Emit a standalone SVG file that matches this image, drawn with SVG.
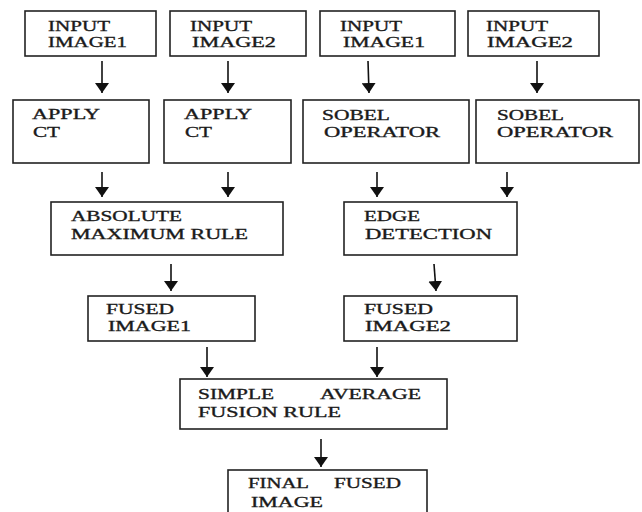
<svg xmlns="http://www.w3.org/2000/svg" width="642" height="512" viewBox="0 0 642 512">
<style>
.box{fill:#fff;stroke:#222;stroke-width:1.6}
.t{font-family:"Liberation Serif","Times New Roman",serif;font-size:15px;fill:#1a1a1a;stroke:#1a1a1a;stroke-width:0.35}
.c{stroke:#111;stroke-width:1.6;fill:none;marker-end:url(#ah)}
</style>
<defs>
<marker id="ah" markerUnits="userSpaceOnUse" viewBox="0 0 10 14" refX="10" refY="7" markerWidth="10" markerHeight="14" orient="auto">
<path d="M0,0 L10,7 L0,14 z" fill="#111"/>
</marker>
</defs>
<rect width="642" height="512" fill="#fff"/>
<g id="connectors">
<line class="c" x1="102" y1="61" x2="102" y2="93"/>
<line class="c" x1="228" y1="61" x2="228" y2="93"/>
<line class="c" x1="368" y1="61" x2="369" y2="93"/>
<line class="c" x1="537" y1="61" x2="537" y2="93"/>
<line class="c" x1="102" y1="172" x2="102" y2="197"/>
<line class="c" x1="228" y1="172" x2="228" y2="197"/>
<line class="c" x1="377" y1="172" x2="377" y2="197"/>
<line class="c" x1="507" y1="172" x2="507" y2="197"/>
<line class="c" x1="171" y1="264" x2="171" y2="291"/>
<line class="c" x1="434" y1="264" x2="436" y2="291"/>
<line class="c" x1="207" y1="347" x2="207" y2="377"/>
<line class="c" x1="377" y1="347" x2="377" y2="377"/>
<line class="c" x1="321" y1="439" x2="321" y2="467"/>
</g>
<g id="input1a"><rect class="box" x="25" y="11" width="131" height="45"/>
<text class="t" x="48" y="31" textLength="62" lengthAdjust="spacingAndGlyphs">INPUT</text>
<text class="t" x="48" y="47" textLength="79" lengthAdjust="spacingAndGlyphs">IMAGE1</text></g>
<g id="input2a"><rect class="box" x="170" y="11" width="136" height="45"/>
<text class="t" x="190" y="31" textLength="62" lengthAdjust="spacingAndGlyphs">INPUT</text>
<text class="t" x="192" y="47" textLength="84" lengthAdjust="spacingAndGlyphs">IMAGE2</text></g>
<g id="input1b"><rect class="box" x="320" y="11" width="135" height="45"/>
<text class="t" x="340" y="31" textLength="62" lengthAdjust="spacingAndGlyphs">INPUT</text>
<text class="t" x="343" y="47" textLength="82" lengthAdjust="spacingAndGlyphs">IMAGE1</text></g>
<g id="input2b"><rect class="box" x="468" y="11" width="131" height="45"/>
<text class="t" x="486" y="31" textLength="62" lengthAdjust="spacingAndGlyphs">INPUT</text>
<text class="t" x="487" y="47" textLength="86" lengthAdjust="spacingAndGlyphs">IMAGE2</text></g>
<g id="ct1"><rect class="box" x="13" y="100" width="136" height="63"/>
<text class="t" x="32" y="119" textLength="68" lengthAdjust="spacingAndGlyphs">APPLY</text>
<text class="t" x="33" y="137" textLength="27" lengthAdjust="spacingAndGlyphs">CT</text></g>
<g id="ct2"><rect class="box" x="164" y="100" width="127" height="63"/>
<text class="t" x="184" y="119" textLength="68" lengthAdjust="spacingAndGlyphs">APPLY</text>
<text class="t" x="185" y="137" textLength="27" lengthAdjust="spacingAndGlyphs">CT</text></g>
<g id="sobel1"><rect class="box" x="303" y="100" width="166" height="63"/>
<text class="t" x="322" y="120" textLength="68" lengthAdjust="spacingAndGlyphs">SOBEL</text>
<text class="t" x="324" y="137" textLength="116" lengthAdjust="spacingAndGlyphs">OPERATOR</text></g>
<g id="sobel2"><rect class="box" x="476" y="100" width="163" height="63"/>
<text class="t" x="497" y="120" textLength="67" lengthAdjust="spacingAndGlyphs">SOBEL</text>
<text class="t" x="497" y="137" textLength="116" lengthAdjust="spacingAndGlyphs">OPERATOR</text></g>
<g id="absmax"><rect class="box" x="51" y="202" width="232" height="53"/>
<text class="t" x="71" y="221" textLength="111" lengthAdjust="spacingAndGlyphs">ABSOLUTE</text>
<text class="t" x="71" y="239" textLength="177" lengthAdjust="spacingAndGlyphs">MAXIMUM RULE</text></g>
<g id="edge"><rect class="box" x="344" y="202" width="173" height="53"/>
<text class="t" x="364" y="221" textLength="56" lengthAdjust="spacingAndGlyphs">EDGE</text>
<text class="t" x="365" y="239" textLength="127" lengthAdjust="spacingAndGlyphs">DETECTION</text></g>
<g id="fused1"><rect class="box" x="88" y="296" width="167" height="45"/>
<text class="t" x="106" y="314" textLength="68" lengthAdjust="spacingAndGlyphs">FUSED</text>
<text class="t" x="108" y="331" textLength="83" lengthAdjust="spacingAndGlyphs">IMAGE1</text></g>
<g id="fused2"><rect class="box" x="344" y="296" width="173" height="45"/>
<text class="t" x="364" y="314" textLength="69" lengthAdjust="spacingAndGlyphs">FUSED</text>
<text class="t" x="365" y="331" textLength="86" lengthAdjust="spacingAndGlyphs">IMAGE2</text></g>
<g id="average"><rect class="box" x="180" y="379" width="267" height="50"/>
<text class="t" x="198" y="399" textLength="76" lengthAdjust="spacingAndGlyphs">SIMPLE</text>
<text class="t" x="320" y="399" textLength="101" lengthAdjust="spacingAndGlyphs">AVERAGE</text>
<text class="t" x="198" y="417" textLength="143" lengthAdjust="spacingAndGlyphs">FUSION RULE</text></g>
<g id="final"><rect class="box" x="228" y="470" width="199" height="50"/>
<text class="t" x="248" y="488" textLength="61" lengthAdjust="spacingAndGlyphs">FINAL</text>
<text class="t" x="334" y="488" textLength="67" lengthAdjust="spacingAndGlyphs">FUSED</text>
<text class="t" x="251" y="507" textLength="72" lengthAdjust="spacingAndGlyphs">IMAGE</text></g>
</svg>
